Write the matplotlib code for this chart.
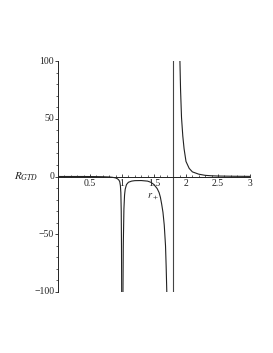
import matplotlib
matplotlib.use("Agg")
import matplotlib.pyplot as plt
from matplotlib.ticker import MultipleLocator, FixedLocator, FixedFormatter

plt.rcParams['font.family'] = ['Liberation Serif', 'DejaVu Serif']
plt.rcParams['mathtext.fontset'] = 'stix'

# Branch 1: from 0 up to the double pole near r = 1
x1 = [0.0, 0.2, 0.4, 0.6, 0.7, 0.8, 0.85, 0.9, 0.93, 0.95, 0.965, 0.975, 0.982, 0.988, 0.992, 0.995]
y1 = [0.0, 0.0, 0.0, -0.1, -0.2, -0.4, -0.7, -1.2, -2.0, -3.0, -4.5, -8.0, -14.0, -30.0, -60.0, -100.0]

# Branch 2: between the pole near 1 and the pole near 1.8
x2 = [1.015, 1.02, 1.03, 1.04, 1.05, 1.07, 1.1, 1.15, 1.2, 1.3, 1.4, 1.45, 1.5, 1.55, 1.58, 1.6, 1.62, 1.64, 1.66, 1.68, 1.69, 1.70]
y2 = [-100.0, -60.0, -28.0, -16.0, -11.0, -7.0, -5.0, -4.0, -3.6, -3.5, -4.0, -5.0, -7.0, -10.5, -14.0, -18.0, -24.0, -31.0, -42.0, -60.0, -78.0, -100.0]

# Branch 3: right of the pole near 1.8
x3 = [1.905, 1.915, 1.93, 1.95, 1.97, 2.0, 2.05, 2.1, 2.2, 2.3, 2.4, 2.5, 2.75, 3.0]
y3 = [100.0, 75.0, 51.0, 35.0, 24.0, 13.0, 7.0, 4.0, 2.0, 1.0, 0.6, 0.4, 0.2, 0.1]

pole_x = 1.80

xticks = [0.5, 1, 1.5, 2, 2.5, 3]
xticklabels = ['0.5', '1', '1.5', '2', '2.5', '3']
yticks = [-100, -50, 0, 50, 100]
yticklabels = ['\u2212100', '\u221250', '0', '50', '100']

fig = plt.figure(figsize=(2.73, 3.53), dpi=100)
ax = fig.add_axes([58/273, 61/353, 192/273, 231/353])

lc = '#222222'
lw = 0.8
ax.plot(x1, y1, color=lc, lw=lw)
ax.plot(x2, y2, color=lc, lw=lw)
ax.plot(x3, y3, color=lc, lw=lw)
ax.axvline(pole_x, color='#444444', lw=lw)

ax.set_xlim(0, 3)
ax.set_ylim(-100, 100)

ax.spines['left'].set_position(('data', 0))
ax.spines['bottom'].set_position(('data', 0))
ax.spines['top'].set_visible(False)
ax.spines['right'].set_visible(False)
for s in ('left', 'bottom'):
    ax.spines[s].set_linewidth(0.7)
    ax.spines[s].set_color('#222222')

ax.xaxis.set_major_locator(FixedLocator(xticks))
ax.xaxis.set_major_formatter(FixedFormatter(xticklabels))
ax.xaxis.set_minor_locator(MultipleLocator(0.1))
ax.yaxis.set_major_locator(FixedLocator(yticks))
ax.yaxis.set_minor_locator(MultipleLocator(10))
ax.yaxis.set_ticklabels([])

ax.tick_params(axis='both', which='major', direction='in', length=2.5, width=0.6,
               labelsize=7, pad=1.5, colors='#222222')
ax.tick_params(axis='both', which='minor', direction='in', length=1.8, width=0.5, colors='#222222')
ax.tick_params(axis='y', which='both', direction='out')

ytr = ax.get_yaxis_transform()
for v, lab in zip(yticks, yticklabels):
    ax.text(-0.02, v, lab, transform=ytr, ha='right', va='center', fontsize=7,
            color='#222222', clip_on=False)

ax.text(-0.105, 0, r'$R_{GTD}$', transform=ytr, ha='right', va='center',
        fontsize=8, color='#222222')
ax.text(1.49, -17.5, r'$r_+$', ha='center', va='center', fontsize=7.5, color='#222222')

fig.savefig('out.png', dpi=100, facecolor='white')
